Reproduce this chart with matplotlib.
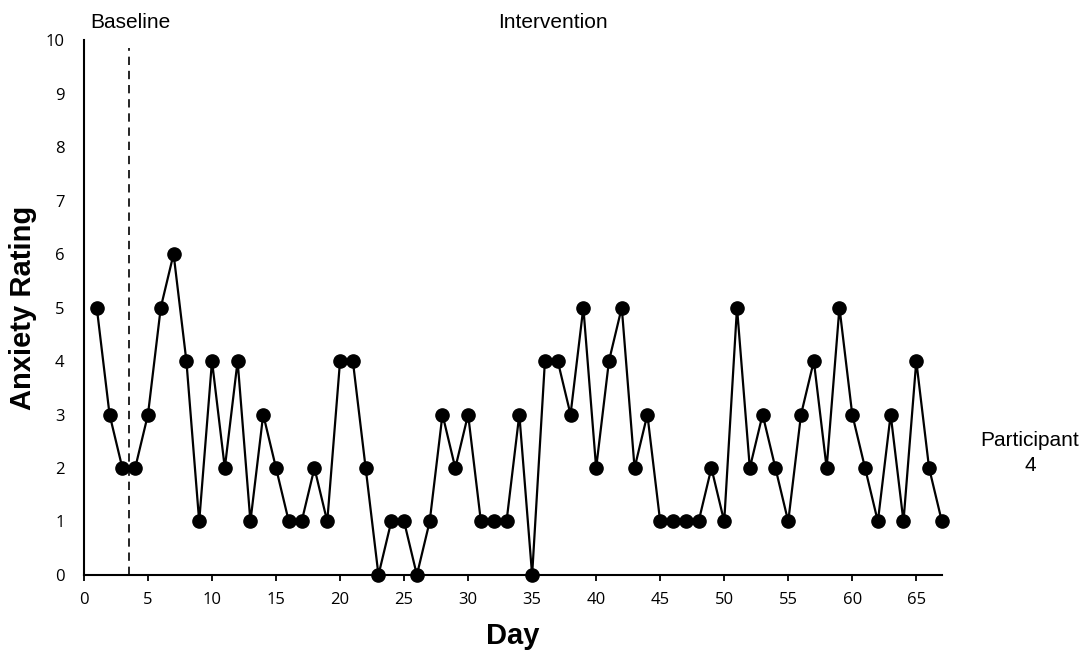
import matplotlib
matplotlib.use("Agg")
import matplotlib.pyplot as plt
import numpy as np

# anxiety ratings per day
days = list(range(1, 68))
ratings = [5, 3, 2, 2, 3, 5, 6, 4, 1, 4,
           2, 4, 1, 3, 2, 1, 1, 2, 1, 4,
           4, 2, 0, 1, 1, 0, 1, 3, 2, 3,
           1, 1, 1, 3, 0, 4, 4, 3, 5, 2,
           4, 5, 2, 3, 1, 1, 1, 1, 2, 1,
           5, 2, 3, 2, 1, 3, 4, 2, 5, 3,
           2, 1, 3, 1, 4, 2, 1]
phase_change = 3.5
x_ticks = list(range(0, 70, 5))
y_ticks = list(range(0, 11))

label_font = "Liberation Sans"
tick_font = "Open Sans"

fig = plt.figure(figsize=(10.86, 6.54), dpi=100)
ax = fig.add_axes([0.0773, 0.1208, 0.7900, 0.8180])

ax.plot(days, ratings, color="black", linewidth=1.6, marker="o",
        markersize=9.5, clip_on=False, zorder=3)
ax.plot([phase_change, phase_change], [0, 9.85], color="black",
        linewidth=1.2, linestyle=(0, (5, 3.5)), zorder=2)

ax.set_xlim(0, 67)
ax.set_ylim(0, 10)
ax.set_xticks(x_ticks)
ax.set_yticks(y_ticks)

for side in ["top", "right"]:
    ax.spines[side].set_visible(False)
for side in ["left", "bottom"]:
    ax.spines[side].set_linewidth(1.5)

ax.tick_params(axis="y", length=0, pad=14)
ax.tick_params(axis="x", length=4.5, width=1.3, direction="out", pad=8)
for lbl in ax.get_xticklabels() + ax.get_yticklabels():
    lbl.set_fontfamily(tick_font)
    lbl.set_fontsize(12)

ax.set_xlabel("Day", fontsize=21, fontweight="bold", family=label_font, labelpad=10)
ax.set_ylabel("Anxiety Rating", fontsize=21, fontweight="bold", family=label_font, labelpad=6)

fig.text(90 / 1086, 1 - 22 / 654, "Baseline", fontsize=15, family=label_font,
         ha="left", va="center")
fig.text(553 / 1086, 1 - 22 / 654, "Intervention", fontsize=15, family=label_font,
         ha="center", va="center")
fig.text(1030 / 1086, 1 - 453 / 654, "Participant\n4", fontsize=15, family=label_font,
         ha="center", va="center", linespacing=1.4)

fig.savefig("out.png", dpi=100)
